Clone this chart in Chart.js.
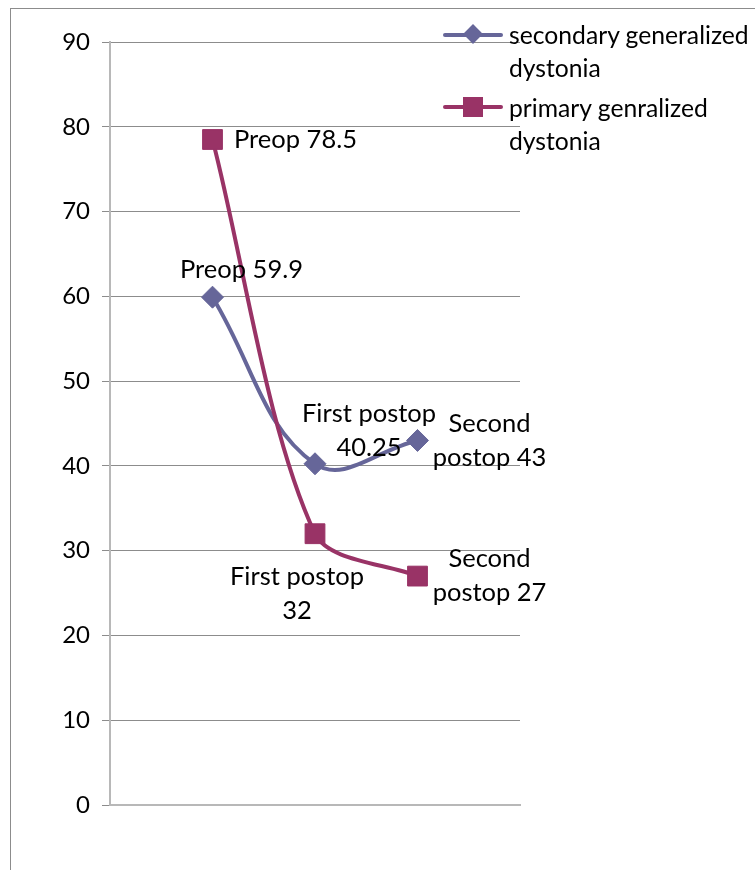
<!DOCTYPE html>
<html>
<head>
<meta charset="utf-8">
<script src="https://cdn.jsdelivr.net/npm/chart.js@4.4.0/dist/chart.umd.min.js"></script>
<style>
html,body{margin:0;padding:0;background:#fff;}
#wrap{position:relative;width:755px;height:870px;overflow:hidden;}
#frame{position:absolute;left:10px;top:8px;width:800px;height:900px;border-left:1px solid #8c8c8c;border-top:1px solid #8c8c8c;}
#myChart{position:absolute;left:0;top:0;}
.lg{position:absolute;left:443px;width:320px;font-family:Lato,sans-serif;font-size:24.7px;color:#000;}
.lg .ln{position:absolute;left:0;width:60px;height:4px;border-radius:2px;}
.lg .mk{position:absolute;}
.lg .tx{position:absolute;left:66px;top:0;line-height:33px;white-space:nowrap;}
</style>
</head>
<body>
<div id="wrap">
  <div id="frame"></div>
  <canvas id="myChart" width="755" height="870"></canvas>
  <div id="legend"></div>
</div>
<script>
(function(){

    var categories=["Preop","First postop","Second postop"];
    var seriesNames=["secondary generalized dystonia","primary genralized dystonia"];
    var secondary=[59.9,40.25,43];
    var primary=[78.5,32,27];
    var yTicks={min:0,max:90,step:10};

    var colors=["#666699","#993366"];
    var LINE_H=34;

    // words on first line of each point label (0 = one line)
    var wraps=[[0,2,1],[0,2,1]];
    // label block centre, relative to the point
    var offsets=[[[29,-27],[54,-33],[72,0]],[[83,0],[-18,60],[72,0]]];

    function pts(vals){
        return vals.map(function(v,i){return {x:i+1,y:v};});
    }

    var labelPlugin={
        id:'pointLabels',
        afterDatasetsDraw:function(chart){
            var ctx=chart.ctx;
            ctx.save();
            ctx.font='25.5px Lato';
            ctx.fillStyle='#000';
            ctx.textAlign='center';
            ctx.textBaseline='middle';
            chart.data.datasets.forEach(function(ds,i){
                var vals=ds.data;
                chart.getDatasetMeta(i).data.forEach(function(pt,j){
                    var words=(categories[j]+' '+vals[j].y).split(' ');
                    var n=wraps[i][j],lines;
                    if(n) lines=[words.slice(0,n).join(' '),words.slice(n).join(' ')];
                    else lines=[words.join(' ')];
                    var off=offsets[i][j];
                    var y0=pt.y+off[1]-(lines.length-1)*LINE_H/2;
                    lines.forEach(function(t,k){
                        ctx.fillText(t,pt.x+off[0],y0+k*LINE_H);
                    });
                });
            });
            ctx.restore();
        }
    };

    var ctx=document.getElementById("myChart").getContext("2d");
    var myChart=new Chart(ctx,{
        type:'line',
        data:{
            datasets:[
                {label:seriesNames[0],data:pts(secondary),borderColor:colors[0],backgroundColor:colors[0],
                 borderWidth:4,tension:0.4,pointStyle:'rectRot',pointRadius:11,pointHoverRadius:11,pointBorderWidth:1,order:1},
                {label:seriesNames[1],data:pts(primary),borderColor:colors[1],backgroundColor:colors[1],
                 borderWidth:4,tension:0.3,pointStyle:'rect',pointRadius:14,pointHoverRadius:14,pointBorderWidth:1,order:0}
            ]
        },
        options:{
            responsive:false,
            animation:false,
            layout:{padding:{left:10,right:235,top:42,bottom:65}},
            plugins:{legend:{display:false},tooltip:{enabled:false}},
            scales:{
                x:{type:'linear',min:0,max:4,
                   ticks:{display:false},
                   grid:{display:false},
                   border:{color:'#b8b8b8',width:2},
                   afterFit:function(s){s.height=0;}},
                y:{min:yTicks.min,max:yTicks.max,
                   ticks:{stepSize:yTicks.step,color:'#000',padding:12,font:{family:'Lato',size:24}},
                   grid:{color:'#8c8c8c',lineWidth:1,tickLength:8},
                   border:{color:'#b8b8b8',width:2},
                   afterFit:function(s){s.width=100;}}
            }
        },
        plugins:[labelPlugin]
    });

    // legend
    var legend=document.getElementById("legend");
    var tops=[18,91];
    seriesNames.forEach(function(name,i){
        var d=document.createElement("div");
        d.className="lg";
        d.style.top=tops[i]+"px";
        var mk=i===0
            ? '<div class="mk" style="left:23px;top:9px;width:14px;height:14px;background:'+colors[0]+';transform:rotate(45deg)"></div>'
            : '<div class="mk" style="left:20px;top:6px;width:20px;height:20px;background:'+colors[1]+'"></div>';
        var words=name.split(' ');
        var txt=words.slice(0,words.length-1).join(' ')+'<br>'+words[words.length-1];
        d.innerHTML='<div class="ln" style="top:'+(i===0?15:14)+'px;background:'+colors[i]+'"></div>'+mk+'<div class="tx">'+txt+'</div>';
        legend.appendChild(d);
    });
})()
</script>
</body>
</html>
